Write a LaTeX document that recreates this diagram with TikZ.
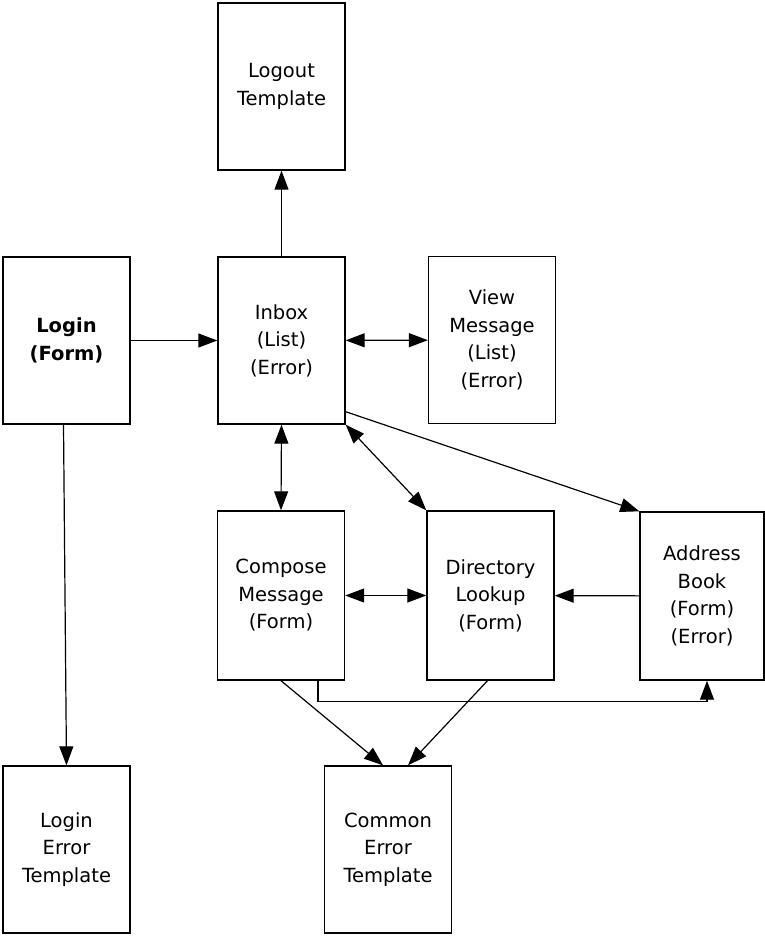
\documentclass[tikz,border=0pt]{standalone}
\usepackage{fontspec}
\setmainfont{DejaVu Sans}
\usepackage{tikz}
\usetikzlibrary{arrows.meta,positioning,calc}

\begin{document}
\begin{tikzpicture}[x=1pt,y=-1pt,
  every node/.style={font=\fontsize{19.5}{27.5}\selectfont},
  pg/.style={draw,line width=1.4pt,minimum width=127pt,minimum height=167pt,
    inner sep=0pt,align=center},
  ln/.style={line width=1.2pt},
  ar/.style={ln,-{Triangle[length=19pt,width=14pt]}},
  ar2/.style={ln,{Triangle[length=19pt,width=14pt]}-{Triangle[length=19pt,width=14pt]}}]
\useasboundingbox (0,0) rectangle (765,937);
% pages of the mail front end
\node[pg] (logout) at (281.5,86.5) {Logout\\Template};
\node[pg] (login) at (66.5,340.5) {\textbf{Login}\\\textbf{(Form)}};
\node[pg] (inbox) at (281.5,340.5) {Inbox\\(List)\\(Error)};
\node[pg] (view) at (492,340) {View\\Message\\(List)\\(Error)};
\node[pg,minimum height=169pt] (compose) at (281,595.5) {Compose\\Message\\(Form)};
\node[pg,minimum height=169pt] (dir) at (490.5,595.5) {Directory\\Lookup\\(Form)};
\node[pg,minimum width=124pt,minimum height=168pt] (addr) at (702,596)
  {Address\\Book\\(Form)\\(Error)};
\node[pg] (loginerr) at (66.5,849.5) {Login\\Error\\Template};
\node[pg] (common) at (388,849.5) {Common\\Error\\Template};
% links
\draw[ar] (inbox.north) -- (logout.south);
\draw[ar] (login) -- (inbox);
\draw[ar2] (inbox) -- (view);
\draw[ar2] (inbox.south) -- (compose.north);
\draw[ar2] (inbox.south east) -- (dir.north west);
\draw[ar] ([yshift=13pt]inbox.south east) -- (addr.north west);
\draw[ar2] (compose) -- (dir);
\draw[ar] (addr) -- (dir);
\draw[ar] ([xshift=37pt]compose.south) -- ++(0,21) -| ([xshift=5pt]addr.south);
\draw[ar] (compose.south) -- ([xshift=-5pt]common.north);
\draw[ar] ([xshift=-3pt]dir.south) -- ([xshift=20pt]common.north);
\draw[ar] ([xshift=-3pt]login.south) -- (loginerr.north);
\end{tikzpicture}
\end{document}
